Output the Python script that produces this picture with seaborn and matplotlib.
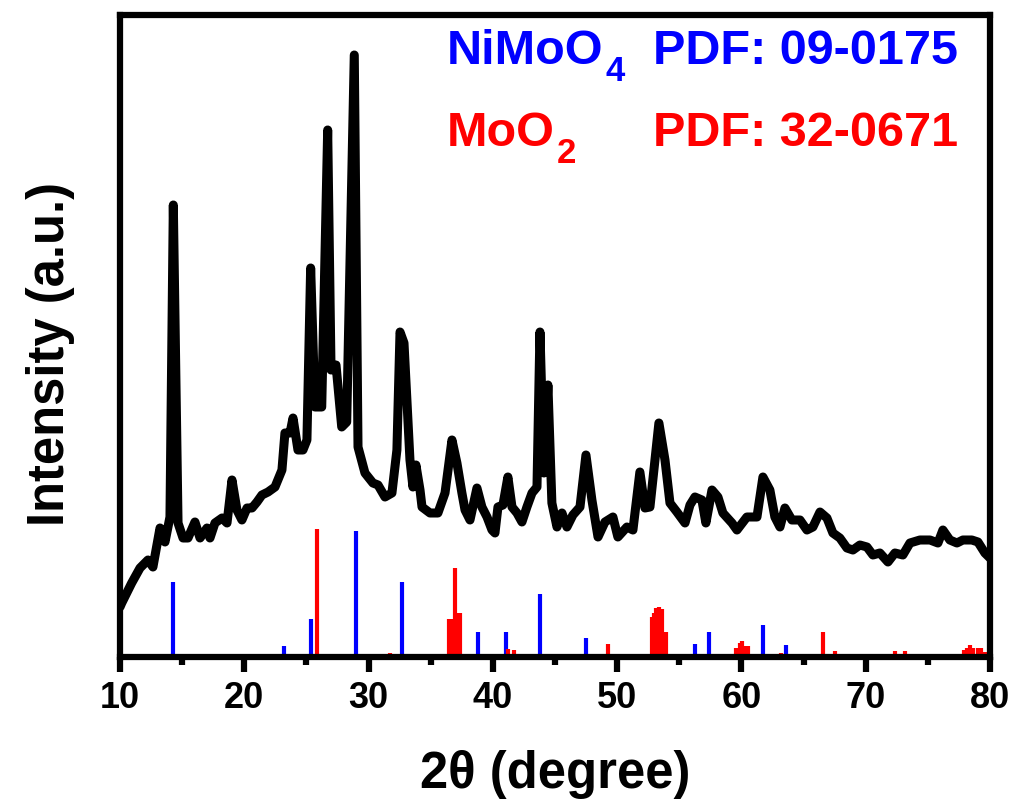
import matplotlib
matplotlib.use("Agg")
import matplotlib.pyplot as plt
from matplotlib.ticker import MultipleLocator
import seaborn as sns
import pandas as pd

# XRD pattern of the NiMoO4/MoO2 sample (2-theta in degrees, intensity in a.u.)
two_theta = [10.00, 10.14, 10.94, 11.61, 12.25, 12.65, 13.22, 13.62, 14.02, 14.29,
             14.67, 15.07, 15.47, 16.03, 16.44, 17.00, 17.24, 17.64, 18.21, 18.61,
             19.01, 19.41, 19.81, 20.22, 20.62, 21.02, 21.42, 21.91, 22.47, 23.03,
             23.27, 23.68, 23.92, 24.32, 24.72, 25.04, 25.34, 25.69, 26.23, 26.71,
             26.98, 27.38, 27.84, 28.24, 28.85, 29.15, 29.71, 30.35, 30.76, 31.32,
             31.88, 32.28, 32.53, 32.85, 33.33, 33.57, 33.81, 34.14, 34.30, 34.94,
             35.58, 36.15, 36.71, 37.11, 37.51, 37.76, 38.16, 38.72, 39.12, 39.53,
             39.93, 40.17, 40.41, 40.81, 41.21, 41.54, 41.94, 42.34, 42.74, 43.15,
             43.55, 43.79, 44.11, 44.43, 44.75, 45.16, 45.56, 45.96, 46.44, 47.01,
             47.49, 47.97, 48.46, 49.02, 49.66, 50.06, 50.79, 51.27, 51.83, 52.24,
             52.64, 53.36, 53.85, 54.25, 54.81, 55.46, 55.86, 56.26, 56.82, 57.14,
             57.63, 58.11, 58.51, 59.24, 59.64, 60.44, 61.25, 61.73, 62.29, 62.69,
             63.10, 63.50, 64.06, 64.71, 65.27, 65.75, 66.32, 66.88, 67.36, 67.92,
             68.49, 68.97, 69.53, 70.10, 70.58, 71.14, 71.79, 72.35, 72.99, 73.56,
             74.36, 75.17, 75.81, 76.21, 76.77, 77.34, 77.82, 78.54, 79.03, 79.59,
             80.00]
intensity = [50, 54, 74, 89, 97, 90, 129, 115, 140, 452,
             134, 119, 119, 135, 119, 129, 119, 134, 139, 134,
             177, 147, 137, 149, 149, 155, 162, 165, 170, 187,
             224, 224, 239, 207, 207, 217, 389, 250, 250, 527,
             287, 292, 230, 235, 602, 210, 184, 174, 172, 160,
             164, 207, 325, 314, 197, 170, 192, 167, 150, 144,
             144, 164, 217, 194, 164, 147, 137, 169, 150, 140,
             127, 124, 150, 152, 180, 150, 144, 135, 150, 164,
             170, 325, 184, 272, 154, 130, 144, 130, 142, 150,
             202, 157, 120, 135, 140, 120, 130, 127, 185, 149,
             150, 234, 197, 154, 145, 134, 152, 160, 157, 134,
             167, 160, 144, 134, 127, 140, 140, 180, 167, 140,
             130, 149, 137, 137, 127, 130, 145, 139, 124, 119,
             109, 107, 112, 110, 102, 104, 95, 104, 102, 114,
             117, 117, 114, 127, 117, 114, 117, 117, 115, 104,
             99]

# Reference line positions and relative heights
nimoo4_pos = [14.29, 23.2, 25.4, 28.96, 32.66, 38.83, 41.05, 43.79, 47.46,
              56.26, 57.41, 61.7, 63.58]
nimoo4_int = [75, 11, 38, 126, 75, 25, 25, 63, 19, 13, 25, 32, 12]

moo2_pos = [18.3, 25.87, 31.7, 36.5, 36.7, 36.95, 37.15, 37.35, 41.2, 41.7,
            49.3, 52.8, 52.95, 53.15, 53.4, 53.6, 53.75, 53.95, 57.4,
            59.6, 59.85, 60.06, 60.3, 60.5, 63.15, 66.53, 67.5, 69.13, 69.8,
            70.2, 72.35, 73.15, 73.7, 77.9, 78.15, 78.4, 78.65, 79.05, 79.3, 79.6]
moo2_int = [3, 128, 4, 38, 38, 89, 44, 44, 8, 7,
            13, 40, 44, 49, 50, 48, 25, 25, 2,
            9, 14, 16, 11, 11, 4, 25, 6, 3, 2,
            2, 6, 6, 2, 7, 9, 12, 9, 9, 9, 5]

x_ticks = [10, 20, 30, 40, 50, 60, 70, 80]

# Phase labels: formula, subscript, card number, colour
phase_names = ["NiMoO", "MoO"]
phase_subs = ["4", "2"]
phase_cards = ["PDF: 09-0175", "PDF: 32-0671"]
phase_colors = ["#0000ff", "#ff0000"]

sns.set_style("ticks")
plt.rcParams["font.family"] = ["Liberation Sans", "DejaVu Sans"]
plt.rcParams["font.weight"] = "bold"
plt.rcParams["text.color"] = "black"
plt.rcParams["axes.labelcolor"] = "black"
plt.rcParams["xtick.color"] = "black"
plt.rcParams["xtick.labelcolor"] = "black"

fig = plt.figure(figsize=(10.13, 8.01), dpi=100)
ax = fig.add_axes([120 / 1013, 1 - 657 / 801, 870 / 1013, 642 / 801])

ax.vlines(nimoo4_pos, 0, nimoo4_int, colors=phase_colors[0], lw=3.0, zorder=2)
ax.vlines(moo2_pos, 0, moo2_int, colors=phase_colors[1], lw=3.0, zorder=2)

df = pd.DataFrame({"two_theta": two_theta, "intensity": intensity})
sns.lineplot(data=df, x="two_theta", y="intensity", color="black", lw=6.5,
             ax=ax, zorder=3, solid_joinstyle="round", solid_capstyle="round")

ax.set_xlim(10, 80)
ax.set_ylim(0, 642)
ax.set_xticks(x_ticks)
ax.xaxis.set_minor_locator(MultipleLocator(5))
ax.set_yticks([])

for sp in ax.spines.values():
    sp.set_linewidth(4.5)
    sp.set_color("black")
    sp.set_zorder(5)

ax.tick_params(axis="x", which="major", direction="out", length=11, width=4.5,
               color="black", labelcolor="black", labelsize=26, pad=6)
ax.tick_params(axis="x", which="minor", direction="out", length=6, width=4.5,
               color="black")
ax.tick_params(axis="x", top=False, which="both")
for lab in ax.get_xticklabels():
    lab.set_fontweight("bold")

ax.set_xlabel("2θ (degree)", fontsize=36.5, fontweight="bold", color="black")
ax.set_ylabel("Intensity (a.u.)", fontsize=36.5, fontweight="bold", color="black")
ax.xaxis.set_label_coords(0.5, -0.145)
ax.yaxis.set_label_coords(-0.052, 0.472)

row_y = [0.924, 0.796]
for name, sub, card, col, yy in zip(phase_names, phase_subs, phase_cards,
                                    phase_colors, row_y):
    t = ax.text(0.376, yy, name, transform=ax.transAxes, color=col,
                fontsize=35, fontweight="bold", va="baseline", ha="left")
    ax.annotate(sub, xy=(1, 0), xycoords=t, xytext=(1.5, -5),
                textcoords="offset points", color=col, fontsize=25,
                fontweight="bold", va="baseline", ha="left")
    ax.text(0.613, yy, card, transform=ax.transAxes, color=col,
            fontsize=35, fontweight="bold", va="baseline", ha="left")

fig.savefig("out.png", dpi=100, facecolor="white")
